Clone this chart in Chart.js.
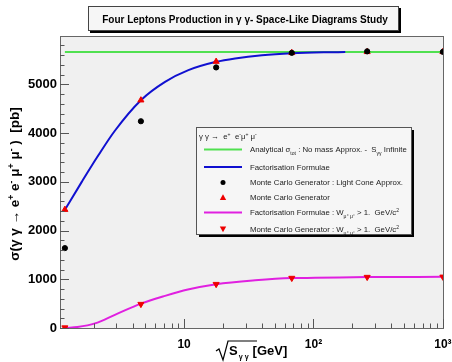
<!DOCTYPE html>
<html>
<head>
<meta charset="utf-8">
<script src="https://cdn.jsdelivr.net/npm/chart.js@4.4.1/dist/chart.umd.min.js"></script>
<style>
  html, body { margin: 0; padding: 0; background: #fff; }
  #wrap { width: 452px; height: 362px; position: relative; }
</style>
</head>
<body>
<div id="wrap"><canvas id="chart" width="452" height="362"></canvas></div>
<script>
// sqrt(s_gg) in GeV where the generators were run
const energies = [1.2, 4.64, 17.7, 68, 260, 1000];
const mcFull = [2430, 4677, 5470, 5650, 5670, 5670];        // red up triangles
const mcLightCone = [1640, 4245, 5350, 5650, 5680, 5670];   // black dots
const mcCut = [8, 490, 900, 1025, 1045, 1050];              // red down triangles

// analytical limit (no mass, s infinite)
const analyticX = [1.2, 1000];
const analyticY = [5665, 5665];

// factorisation formula curve
const factX = [1.2, 1.62, 2.17, 2.92, 4.64, 7.13, 10.8, 17.7, 24.8, 40, 68, 120, 176];
const factY = [2428, 3000, 3540, 4050, 4677, 5054, 5294, 5465, 5535, 5600, 5640, 5660, 5665];

// factorisation with W cut
const cutX = [1.22, 1.5, 2.05, 2.92, 4.64, 7.13, 10.7, 17.7, 35.4, 68, 103, 260, 1000];
const cutY = [0, 20, 95, 270, 500, 660, 790, 900, 980, 1025, 1030, 1045, 1050];

const yTicks = [0, 1000, 2000, 3000, 4000, 5000];
const xTickLabels = { 10: '10', 100: '10\u00B2', 1000: '10\u00B3' };

const pts = (xs, ys) => xs.map((x, i) => ({ x: x, y: ys[i] }));

const FONT = '"Liberation Sans", Arial, Helvetica, sans-serif';

// draws text pieces with sub/superscripts, returns end x
function richText(ctx, x, y, parts, size, weight) {
  parts.forEach(p => {
    let s = size, dy = 0;
    if (p.sub) { s = size * 0.65; dy = size * 0.35; }
    if (p.sup) { s = size * 0.65; dy = -size * 0.4; }
    ctx.font = (weight || 'normal') + ' ' + s + 'px ' + FONT;
    ctx.fillText(p.t, x, y + dy);
    x += ctx.measureText(p.t).width;
  });
  return x;
}

function triangle(ctx, cx, cy, r, down) {
  ctx.beginPath();
  if (!down) {
    ctx.moveTo(cx, cy - r); ctx.lineTo(cx + r, cy + r * 0.8); ctx.lineTo(cx - r, cy + r * 0.8);
  } else {
    ctx.moveTo(cx, cy + r); ctx.lineTo(cx + r, cy - r * 0.8); ctx.lineTo(cx - r, cy - r * 0.8);
  }
  ctx.closePath();
  ctx.fill();
}

const rootStyle = {
  id: 'rootStyle',
  beforeDraw(chart) {
    const { ctx, chartArea: a } = chart;
    ctx.save();
    ctx.fillStyle = '#f0f0f0';
    ctx.fillRect(a.left, a.top, a.right - a.left, a.bottom - a.top);
    ctx.restore();
  },
  afterDraw(chart) {
    const { ctx, chartArea: a } = chart;
    const xs = chart.scales.x, ys = chart.scales.y;
    ctx.save();
    // frame
    ctx.strokeStyle = '#666';
    ctx.lineWidth = 1;
    ctx.strokeRect(a.left + 0.5, a.top + 0.5, a.right - a.left - 1, a.bottom - a.top);

    // y ticks, inward
    ctx.strokeStyle = '#555';
    ctx.beginPath();
    for (let v = 0; v <= ys.max; v += 200) {
      const py = Math.round(ys.getPixelForValue(v)) + 0.5;
      const len = v % 1000 === 0 ? 9 : 4.5;
      ctx.moveTo(a.left, py); ctx.lineTo(a.left + len, py);
    }
    // x ticks (log), inward
    for (let d = 1; d <= 1000; d *= 10) {
      for (let m = 1; m <= 9; m++) {
        const v = d * m;
        if (v < xs.min || v > xs.max) continue;
        const px = Math.round(xs.getPixelForValue(v)) + 0.5;
        const len = m === 1 ? 9 : 4.5;
        ctx.moveTo(px, a.bottom); ctx.lineTo(px, a.bottom - len);
      }
    }
    ctx.stroke();

    // title box
    ctx.fillStyle = '#000';
    ctx.fillRect(90, 8, 311, 25);
    ctx.fillStyle = '#f6f6f6';
    ctx.fillRect(88, 6, 311, 25);
    ctx.strokeStyle = '#444';
    ctx.strokeRect(88.5, 6.5, 310, 24);
    ctx.fillStyle = '#000';
    ctx.textAlign = 'center';
    ctx.textBaseline = 'alphabetic';
    ctx.font = 'bold 10px ' + FONT;
    ctx.fillText('Four Leptons Production in \u03B3 \u03B3- Space-Like Diagrams Study', 245, 22.5);

    // y axis title
    ctx.save();
    ctx.translate(19, 184);
    ctx.rotate(-Math.PI / 2);
    ctx.textAlign = 'left';
    const yParts = [
      { t: '\u03C3(\u03B3 \u03B3 \u2192 e' }, { t: '+', sup: true }, { t: ' e' }, { t: '-', sup: true },
      { t: ' \u03BC' }, { t: '+', sup: true }, { t: ' \u03BC' }, { t: '-', sup: true }, { t: ' )  [pb]' }
    ];
    // measure first to center it
    let w = 0;
    yParts.forEach(p => {
      const s = (p.sup ? 13.5 * 0.65 : 13.5);
      ctx.font = 'bold ' + s + 'px ' + FONT;
      w += ctx.measureText(p.t).width;
    });
    richText(ctx, -w / 2, 0, yParts, 13.5, 'bold');
    ctx.restore();

    // x axis title with radical
    ctx.strokeStyle = '#000';
    ctx.lineWidth = 1.2;
    ctx.beginPath();
    ctx.moveTo(216, 351); ctx.lineTo(219, 349); ctx.lineTo(223, 360);
    ctx.lineTo(228, 341); ctx.lineTo(257, 341);
    ctx.stroke();
    ctx.textAlign = 'left';
    let ex = richText(ctx, 229, 355, [{ t: 'S' }], 13, 'bold');
    ex = richText(ctx, ex + 1, 355, [{ t: '\u03B3 \u03B3', sub: true }], 11, 'bold');
    richText(ctx, ex + 4, 355, [{ t: '[GeV]' }], 13, 'bold');

    // legend
    const L = 196, T = 127, R = 411, B = 234;
    ctx.fillStyle = '#000';
    ctx.fillRect(L + 3, T + 3, R - L, B - T);
    ctx.fillStyle = '#f6f6f6';
    ctx.fillRect(L, T, R - L, B - T);
    ctx.strokeStyle = '#555';
    ctx.lineWidth = 1;
    ctx.strokeRect(L + 0.5, T + 0.5, R - L, B - T);

    const fs = 7.8;
    ctx.fillStyle = '#222';
    richText(ctx, 199, 139, [
      { t: '\u03B3 \u03B3 \u2192  e' }, { t: '+', sup: true }, { t: '  e' }, { t: '-', sup: true },
      { t: '\u03BC' }, { t: '+', sup: true }, { t: ' \u03BC' }, { t: '-', sup: true }
    ], fs);

    const rows = [
      { y: 149.5, kind: 'line', color: '#50e050', parts: [
        { t: 'Analytical \u03C3' }, { t: 'tot', sub: true }, { t: ' : No mass Approx. -  S' },
        { t: '\u03B3\u03B3', sub: true }, { t: ' Infinite' }] },
      { y: 167, kind: 'line', color: '#1010d0', parts: [{ t: 'Factorisation Formulae' }] },
      { y: 182.5, kind: 'dot', color: '#000', parts: [{ t: 'Monte Carlo Generator : Light Cone Approx.' }] },
      { y: 197.5, kind: 'up', color: '#ee0000', parts: [{ t: 'Monte Carlo Generator' }] },
      { y: 212.5, kind: 'line', color: '#e020e0', parts: [
        { t: 'Factorisation Formulae : W' }, { t: '\u03BC\u207A \u03BC\u207B', sub: true },
        { t: ' > 1.  GeV/c' }, { t: '2', sup: true }] },
      { y: 229, kind: 'down', color: '#ee0000', parts: [
        { t: 'Monte Carlo Generator : W' }, { t: '\u03BC\u207A \u03BC\u207B', sub: true },
        { t: ' > 1.  GeV/c' }, { t: '2', sup: true }] }
    ];
    rows.forEach(r => {
      ctx.fillStyle = r.color;
      ctx.strokeStyle = r.color;
      if (r.kind === 'line') {
        ctx.lineWidth = 2;
        ctx.beginPath(); ctx.moveTo(204, r.y); ctx.lineTo(242, r.y); ctx.stroke();
      } else if (r.kind === 'dot') {
        ctx.beginPath(); ctx.arc(223, r.y, 2.5, 0, Math.PI * 2); ctx.fill();
      } else {
        triangle(ctx, 223, r.y, 3.2, r.kind === 'down');
      }
      ctx.fillStyle = '#222';
      richText(ctx, 250, r.y + 2.8, r.parts, fs);
    });
    ctx.restore();
  }
};

const chart = new Chart(document.getElementById('chart'), {
  type: 'scatter',
  data: {
    datasets: [
      {
        label: 'Monte Carlo Generator : Light Cone Approx.',
        data: pts(energies, mcLightCone),
        backgroundColor: '#000', borderColor: '#000',
        pointStyle: 'circle', pointRadius: 2.6, showLine: false
      },
      {
        label: 'Monte Carlo Generator',
        data: pts(energies, mcFull),
        backgroundColor: '#ee0000', borderColor: '#ee0000',
        pointStyle: 'triangle', pointRadius: 3.5, showLine: false
      },
      {
        label: 'Monte Carlo Generator : W > 1 GeV/c2',
        data: pts(energies, mcCut),
        backgroundColor: '#ee0000', borderColor: '#ee0000',
        pointStyle: 'triangle', rotation: 180, pointRadius: 3.5, showLine: false
      },
      {
        label: 'Factorisation Formulae',
        data: pts(factX, factY),
        showLine: true, borderColor: '#1010d0', borderWidth: 2,
        pointRadius: 0, cubicInterpolationMode: 'monotone'
      },
      {
        label: 'Analytical',
        data: pts(analyticX, analyticY),
        showLine: true, borderColor: '#50e050', borderWidth: 2, pointRadius: 0
      },
      {
        label: 'Factorisation Formulae : W > 1 GeV/c2',
        data: pts(cutX, cutY),
        showLine: true, borderColor: '#e020e0', borderWidth: 2,
        pointRadius: 0, cubicInterpolationMode: 'monotone'
      }
    ]
  },
  options: {
    responsive: false,
    animation: false,
    layout: { padding: { top: 36, right: 8, left: 0, bottom: 0 } },
    plugins: { legend: { display: false }, tooltip: { enabled: false } },
    scales: {
      x: {
        type: 'logarithmic',
        min: 1.1, max: 1020,
        grid: { display: false, drawTicks: false }, border: { display: false },
        afterFit: s => { s.height = 34; s.paddingLeft = 0; s.paddingRight = 0; },
        ticks: {
          autoSkip: false, maxRotation: 0, padding: 9, color: '#000',
          font: { family: FONT, size: 12, weight: 'bold' },
          callback: v => xTickLabels[v] || null
        }
      },
      y: {
        min: 0, max: 5995,
        grid: { display: false, drawTicks: false }, border: { display: false },
        afterFit: s => { s.width = 60; s.paddingTop = 0; s.paddingBottom = 0; },
        afterBuildTicks: s => { s.ticks = yTicks.map(v => ({ value: v })); },
        ticks: {
          padding: 3, color: '#000',
          font: { family: FONT, size: 13, weight: 'bold' },
          callback: v => String(v)
        }
      }
    }
  },
  plugins: [rootStyle]
});
</script>
</body>
</html>
